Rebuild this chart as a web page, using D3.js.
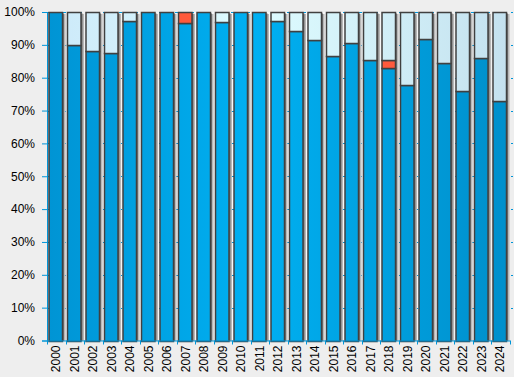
<!DOCTYPE html>
<html>
<head>
<meta charset="utf-8">
<script src="https://cdn.jsdelivr.net/npm/d3@7"></script>
<style>
  html, body { margin: 0; padding: 0; background: #eeeeee; }
  svg { display: block; font-family: "Liberation Sans", Arial, sans-serif; }
</style>
</head>
<body>
<div id="chart"></div>
<script>
// chart data (percent of each year)
const years = ["2000","2001","2002","2003","2004","2005","2006","2007","2008","2009","2010","2011","2012",
               "2013","2014","2015","2016","2017","2018","2019","2020","2021","2022","2023","2024"];
const bluePart = [100, 90, 88, 87.4, 97.2, 100, 100, 96.6, 100, 96.9, 100, 100, 97.2,
                  94.1, 91.4, 86.5, 90.5, 85.3, 83.1, 77.9, 91.9, 84.6, 76.1, 85.9, 72.8];
const redPart = [0, 0, 0, 0, 0, 0, 0, 3.4, 0, 0, 0, 0, 0,
                 0, 0, 0, 0, 0, 2.2, 0, 0, 0, 0, 0, 0];
const lightPart = [0, 10, 12, 12.6, 2.8, 0, 0, 0, 0, 3.1, 0, 0, 2.8,
                   5.9, 8.6, 13.5, 9.5, 14.7, 14.7, 22.1, 8.1, 15.4, 23.9, 14.1, 27.2];
const yTicks = [0, 10, 20, 30, 40, 50, 60, 70, 80, 90, 100];

// size and margins
const width = 514;
const height = 377;
const margin = {left: 47, right: 4.5, top: 12, bottom: 36.5};
const axisColor = "#0095d8";

const svg = d3.select("#chart")
  .append("svg")
  .attr("width", width)
  .attr("height", height);

const defs = svg.append("defs");

// horizontal gradients: brighter in the middle of the plot
function addGradient(id, stops) {
  const g = defs.append("linearGradient")
    .attr("id", id)
    .attr("gradientUnits", "userSpaceOnUse")
    .attr("x1", margin.left).attr("x2", width - margin.right)
    .attr("y1", 0).attr("y2", 0);
  stops.forEach(s => g.append("stop").attr("offset", s[0]).attr("stop-color", s[1]));
}
addGradient("bgGrad", [[0, "#efefef"], [0.5, "#fafafa"], [1, "#efefef"]]);
addGradient("blueGrad", [[0, "#0094d4"], [0.45, "#00b0f2"], [1, "#008fcb"]]);
addGradient("lightGrad", [[0, "#cce9f9"], [0.45, "#defcff"], [1, "#c4e1ef"]]);
addGradient("redGrad", [[0, "#ff5a3c"], [1, "#ff5a3c"]]);

// scales
const x = d3.scaleBand()
  .domain(years)
  .range([margin.left, width - margin.right])
  .padding(0);

const y = d3.scaleLinear()
  .domain([0, 100])
  .range([height - margin.bottom, margin.top]);

const barOffset = 2;
const barWidth = x.step() - 5;

// plot background
svg.append("rect")
  .attr("x", margin.left)
  .attr("y", margin.top)
  .attr("width", width - margin.left - margin.right)
  .attr("height", height - margin.top - margin.bottom)
  .attr("fill", "url(#bgGrad)");

// dashed gridlines
svg.append("g")
  .selectAll("line")
  .data(yTicks.slice(1))
  .enter()
  .append("line")
    .attr("x1", margin.left)
    .attr("x2", width - 1)
    .attr("y1", d => Math.round(y(d)) + 0.5)
    .attr("y2", d => Math.round(y(d)) + 0.5)
    .attr("stroke", axisColor)
    .attr("stroke-width", 1)
    .attr("stroke-dasharray", "3,5");

// stacked rows: blue at bottom, red, then light
const rows = years.map((yr, i) => ({
  year: yr,
  blue: bluePart[i],
  red: redPart[i],
  light: lightPart[i]
}));
const stack = d3.stack().keys(["blue", "red", "light"]);
const series = stack(rows);
const fills = {blue: "url(#blueGrad)", red: "url(#redGrad)", light: "url(#lightGrad)"};

// shadows behind bars
const shadows = svg.append("g");
shadows.selectAll(".sh1")
  .data(rows)
  .enter()
  .append("rect")
    .attr("class", "sh1")
    .attr("x", d => x(d.year) + barOffset + 3)
    .attr("y", Math.round(y(100)) + 2)
    .attr("width", barWidth)
    .attr("height", Math.round(y(0)) - Math.round(y(100)) - 2)
    .attr("fill", "#b8b8b8");
shadows.selectAll(".sh2")
  .data(rows)
  .enter()
  .append("rect")
    .attr("class", "sh2")
    .attr("x", d => x(d.year) + barOffset + 1.5)
    .attr("y", Math.round(y(100)) + 1.5)
    .attr("width", barWidth)
    .attr("height", Math.round(y(0)) - Math.round(y(100)) - 1.5)
    .attr("fill", "#707070");

// bar segments
svg.append("g")
  .selectAll("g")
  .data(series)
  .enter()
  .append("g")
    .attr("fill", d => fills[d.key])
  .selectAll("rect")
  .data(d => d.filter(p => p[1] - p[0] > 0))
  .enter()
  .append("rect")
    .attr("x", d => x(d.data.year) + barOffset)
    .attr("y", d => Math.round(y(d[1])) + 0.5)
    .attr("width", barWidth)
    .attr("height", d => Math.round(y(d[0])) - Math.round(y(d[1])))
    .attr("stroke", "#404040")
    .attr("stroke-width", 1.5);

// y axis
const yAxis = svg.append("g")
  .attr("transform", `translate(${margin.left}, 0)`)
  .call(d3.axisLeft(y).tickValues(yTicks).tickFormat(d => d + "%").tickSizeOuter(0).tickSize(5));
yAxis.selectAll("line").attr("stroke", axisColor);
yAxis.select(".domain").attr("stroke", axisColor);
yAxis.selectAll("text")
  .attr("font-size", "12px")
  .attr("fill", "#000")
  .attr("x", -12)
  .attr("font-family", "Liberation Sans, Arial, sans-serif");

// x axis
const xAxis = svg.append("g")
  .attr("transform", `translate(0,${height - margin.bottom})`)
  .call(d3.axisBottom(x).tickSize(0).tickSizeOuter(0));
xAxis.select(".domain").attr("stroke", axisColor);
xAxis.selectAll("text")
  .attr("font-size", "12px")
  .attr("fill", "#000")
  .attr("font-family", "Liberation Sans, Arial, sans-serif")
  .attr("transform", "rotate(-90)")
  .attr("text-anchor", "end")
  .attr("dy", "0.35em")
  .attr("x", -5)
  .attr("y", 0);

// x ticks at band edges
const edges = years.map(d => x(d)).concat([x(years[years.length - 1]) + x.step()]);
svg.append("g")
  .selectAll("line")
  .data(edges)
  .enter()
  .append("line")
    .attr("x1", d => Math.round(d) + 0.5)
    .attr("x2", d => Math.round(d) + 0.5)
    .attr("y1", height - margin.bottom)
    .attr("y2", height - margin.bottom + 4)
    .attr("stroke", axisColor);
</script>
</body>
</html>
